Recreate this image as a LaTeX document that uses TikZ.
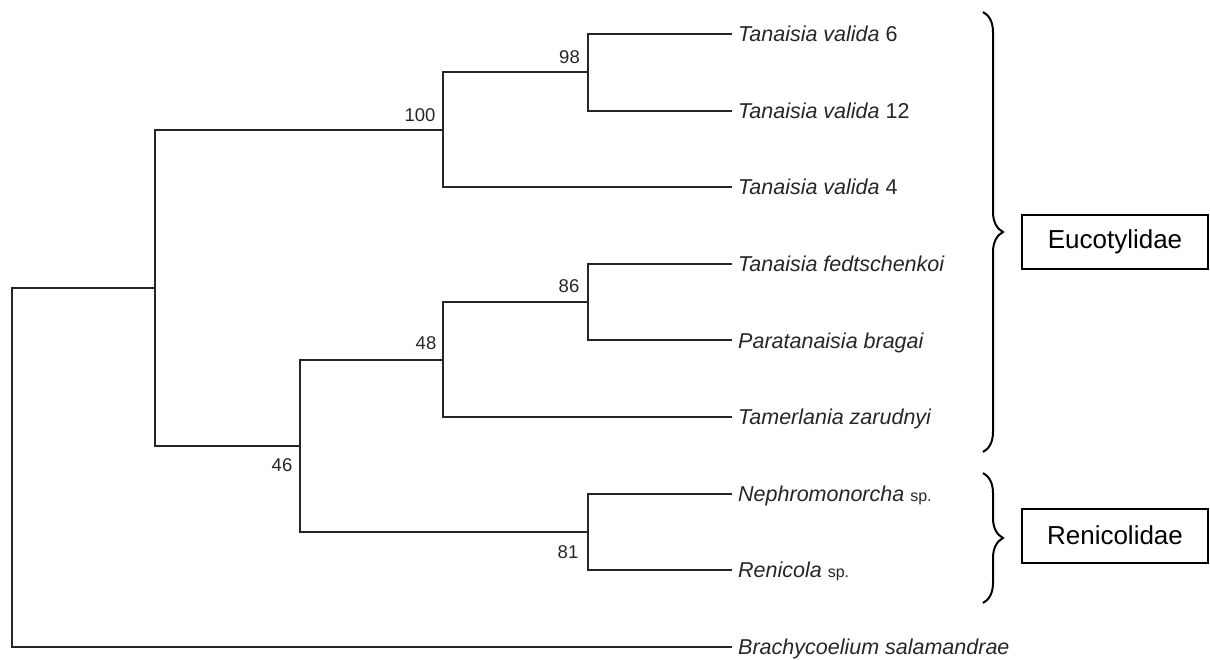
\documentclass[tikz,border=0pt]{standalone}
\usepackage{fontspec}
\setmainfont{Liberation Sans}
\usetikzlibrary{decorations.pathreplacing}
\definecolor{ink}{HTML}{262626}
\begin{document}
\begin{tikzpicture}[x=1pt,y=-1pt,
  branch/.style={draw=ink, line width=2pt, line join=miter},
  leaflabel/.style={anchor=west, inner ysep=0pt, inner xsep=6pt, text height=18pt, text depth=2.6pt,
    font=\fontsize{21.5}{24}\selectfont, text=ink},
  boot/.style={inner sep=0pt, font=\fontsize{18.5}{20}\selectfont, text=ink},
  famlabel/.style={draw=black, line width=2pt, minimum width=186pt, minimum height=54pt,
    inner sep=0pt, font=\fontsize{26}{30}\selectfont},
  bracestyle/.style={draw=black, line width=2pt, decorate, decoration={brace, amplitude=20pt}}
]
\useasboundingbox (0,0) rectangle (1210,660);
\newcommand{\spx}{{\fontsize{16}{18}\selectfont\upshape sp.}}

% leaves (labels carry the leaf ends)
\node[leaflabel] (t1) at (732,34)    {\textit{Tanaisia valida} 6};
\node[leaflabel] (t2) at (732,110.6) {\textit{Tanaisia valida} 12};
\node[leaflabel] (t3) at (732,187.2) {\textit{Tanaisia valida} 4};
\node[leaflabel] (t4) at (732,263.8) {\textit{Tanaisia fedtschenkoi}};
\node[leaflabel] (t5) at (732,340.4) {\textit{Paratanaisia bragai}};
\node[leaflabel] (t6) at (732,417)   {\textit{Tamerlania zarudnyi}};
\node[leaflabel] (t7) at (732,493.6) {\textit{Nephromonorcha} \spx};
\node[leaflabel] (t8) at (732,570.2) {\textit{Renicola} \spx};
\node[leaflabel] (t9) at (732,646.8) {\textit{Brachycoelium salamandrae}};

% internal nodes
\coordinate (n98)  at (588,72.3);
\coordinate (n100) at (443,129.75);
\coordinate (n86)  at (588,302.1);
\coordinate (n48)  at (443,359.55);
\coordinate (n81)  at (588,531.9);
\coordinate (n46)  at (300,445.7);
\coordinate (nin)  at (155,287.7);
\coordinate (root) at (12,467.3);

% branches
\draw[branch] (n98) |- (t1.west);
\draw[branch] (n98) |- (t2.west);
\draw[branch] (n100) |- (n98);
\draw[branch] (n100) |- (t3.west);
\draw[branch] (n86) |- (t4.west);
\draw[branch] (n86) |- (t5.west);
\draw[branch] (n48) |- (n86);
\draw[branch] (n48) |- (t6.west);
\draw[branch] (n81) |- (t7.west);
\draw[branch] (n81) |- (t8.west);
\draw[branch] (n46) |- (n48);
\draw[branch] (n46) |- (n81);
\draw[branch] (nin) |- (n100);
\draw[branch] (nin) |- (n46);
\draw[branch] (root) |- (nin);
\draw[branch] (root) |- (t9.west);

% bootstrap values
\node[boot] (b98)  at (569.5,57)  {98};
\node[boot] (b100) at (420,115)   {100};
\node[boot] (b86)  at (569,286)   {86};
\node[boot] (b48)  at (426,343)   {48};
\node[boot] (b46)  at (282,465)   {46};
\node[boot] (b81)  at (568,552)   {81};

% braces
\coordinate (e1) at (983,12);
\coordinate (e2) at (983,452);
\coordinate (r1) at (983,473);
\coordinate (r2) at (983,603);
\draw[bracestyle] (e1) -- (e2);
\draw[bracestyle] (r1) -- (r2);

% family boxes
\node[famlabel] (euc) at (1115,242)   {Eucotylidae};
\node[famlabel] (ren) at (1115,535.5) {Renicolidae};
\end{tikzpicture}
\end{document}
